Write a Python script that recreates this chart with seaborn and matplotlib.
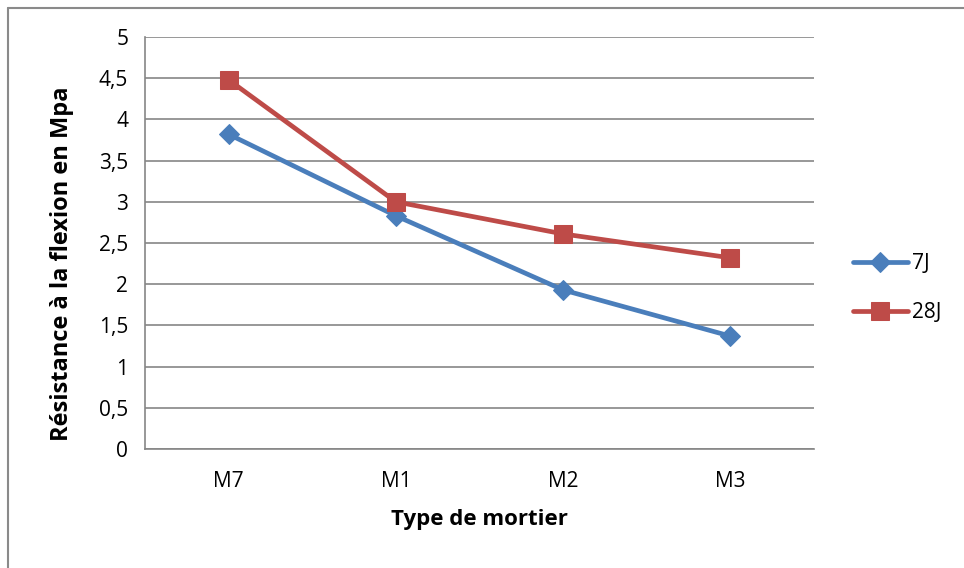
import matplotlib
matplotlib.use("Agg")
import matplotlib.pyplot as plt
from matplotlib.lines import Line2D
import seaborn as sns
import pandas as pd

categories = ["M7", "M1", "M2", "M3"]
series_7j = [3.82, 2.83, 1.93, 1.37]
series_28j = [4.48, 3.00, 2.61, 2.32]
series_names = ["7J", "28J"]
yticks = [0, 0.5, 1, 1.5, 2, 2.5, 3, 3.5, 4, 4.5, 5]
ytick_labels = ["0", "0,5", "1", "1,5", "2", "2,5", "3", "3,5", "4", "4,5", "5"]

sns.set_style("white")
plt.rcParams['font.family'] = ['Open Sans', 'DejaVu Sans']
plt.rcParams['text.color'] = 'black'
plt.rcParams['xtick.labelcolor'] = 'black'
plt.rcParams['ytick.labelcolor'] = 'black'
plt.rcParams['axes.labelcolor'] = 'black'

df = pd.DataFrame({
    "cat": categories * 2,
    "pos": list(range(len(categories))) * 2,
    "val": series_7j + series_28j,
    "serie": [series_names[0]] * 4 + [series_names[1]] * 4,
})

fig = plt.figure(figsize=(9.64, 5.68), dpi=100)
ax = fig.add_axes([145/964, 1 - 449/568, (814 - 145)/964, (449 - 37)/568])

palette = {"7J": "#4A7EBB", "28J": "#BE4B48"}
markers = {"7J": "D", "28J": "s"}
sizes = {"7J": 10, "28J": 13}
for name in series_names:
    sub = df[df["serie"] == name]
    sns.lineplot(data=sub, x="pos", y="val", ax=ax, color=palette[name],
                 marker=markers[name], markersize=sizes[name], linewidth=3.4,
                 markeredgecolor=palette[name], label=name, zorder=3)

ax.set_xlim(-0.5, 3.5)
ax.set_ylim(0, 5)
ax.set_yticks(yticks)
ax.set_yticklabels(ytick_labels)
ax.set_xticks([0, 1, 2, 3])
ax.set_xticklabels(categories)
ax.set_xticks([-0.5, 0.5, 1.5, 2.5, 3.5], minor=True)
ax.tick_params(axis="x", which="major", length=0, pad=16, labelsize=15)
ax.tick_params(axis="x", which="minor", length=7, width=1.2, color="#868686", direction="out")
ax.tick_params(axis="y", length=7, width=1.2, color="#868686", direction="out", labelsize=15, pad=5)
ax.yaxis.grid(True, color="#868686", linewidth=1.2)
ax.set_axisbelow(True)
for s in ["top", "right"]:
    ax.spines[s].set_visible(False)
for s in ["left", "bottom"]:
    ax.spines[s].set_color("#868686")
    ax.spines[s].set_linewidth(1.2)

ax.set_xlabel("Type de mortier", fontsize=16, fontweight="bold", labelpad=12)
ax.set_ylabel("Résistance à la flexion en Mpa", fontsize=17, fontweight="bold", va="center")
ax.yaxis.set_label_coords((62 - 145) / 669, (449 - 264) / 412)

leg = ax.legend(loc="center left", bbox_to_anchor=(1.058, 0.39), frameon=False,
                fontsize=15, handlelength=2.65, labelspacing=1.35, handletextpad=0.2,
                borderpad=0, borderaxespad=0)

fig.add_artist(Line2D([8/964, 8/964], [0, 1 - 8/568], transform=fig.transFigure,
                      color="#8a8a8a", linewidth=1.5))
fig.add_artist(Line2D([8/964, 1], [1 - 8/568, 1 - 8/568], transform=fig.transFigure,
                      color="#8a8a8a", linewidth=1.5))

fig.savefig("out.png", dpi=100)
